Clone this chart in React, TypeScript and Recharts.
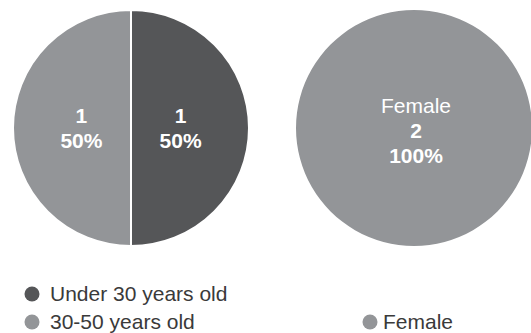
import React from "react";
import { PieChart, Pie, Cell, Legend } from "recharts";

// age breakdown (left pie)
const ageGroups = ["Under 30 years old", "30-50 years old"];
const ageCounts = [1, 1];
const ageColors = ["#555658", "#939598"];

// gender breakdown (right pie)
const genders = ["Female"];
const genderCounts = [2];
const genderColors = ["#939598"];

const ageData = ageGroups.map((name, i) => ({ name, value: ageCounts[i] }));
const genderData = genders.map((name, i) => ({ name, value: genderCounts[i] }));

const FONT = "'Liberation Sans', Arial, Helvetica, sans-serif";
const RAD = Math.PI / 180;

const pctText = (p: number) => `${Math.round(p * 100)}%`;

// count + percent, bold, inside each slice
const AgeLabel = (props: any) => {
  const { cx, cy, midAngle, outerRadius, value, percent } = props;
  const r = outerRadius * 0.42;
  const x = cx + r * Math.cos(-midAngle * RAD);
  const y = cy + r * Math.sin(-midAngle * RAD);
  return (
    <text x={x} y={y} fill="#fff" textAnchor="middle" fontFamily={FONT} fontSize={21} fontWeight="bold">
      <tspan x={x} dy={-5}>{value}</tspan>
      <tspan x={x} dy={25}>{pctText(percent)}</tspan>
    </text>
  );
};

// name, count and percent centred on the single full slice
const GenderLabel = (props: any) => {
  const { cx, cy, name, value, percent } = props;
  return (
    <text x={cx} y={cy} fill="#fff" textAnchor="middle" fontFamily={FONT} fontSize={21}>
      <tspan x={cx + 2} dy={-15}>{name}</tspan>
      <tspan x={cx + 2} dy={25} fontWeight="bold">{value}</tspan>
      <tspan x={cx + 2} dy={25} fontWeight="bold">{pctText(percent)}</tspan>
    </text>
  );
};

const Dot = ({ color }: { color: string }) => (
  <svg width={16} height={16} style={{ marginRight: 4, flexShrink: 0 }}>
    <circle cx={8} cy={8} r={7.5} fill={color} />
  </svg>
);

const LegendRows = () => (
  <div style={{ position: "relative", width: 531, height: 60, fontFamily: FONT, fontSize: 21, color: "#3a3a3a" }}>
    {ageGroups.map((g, i) => (
      <div key={g} style={{ position: "absolute", left: 24, top: i * 28, display: "flex", alignItems: "center", height: 24 }}>
        <Dot color={ageColors[i]} />
        <span style={{ marginLeft: 6 }}>{g}</span>
      </div>
    ))}
    {genders.map((g, i) => (
      <div key={g} style={{ position: "absolute", left: 362, top: 28 + i * 28, display: "flex", alignItems: "center", height: 24 }}>
        <Dot color={genderColors[i]} />
        <span style={{ marginLeft: 1 }}>{g}</span>
      </div>
    ))}
  </div>
);

export default function App() {
  return (
    <div style={{ position: "absolute", left: 0, top: 0, width: 531, height: 333, background: "#fff" }}>
      <PieChart width={531} height={333} margin={{ top: 0, right: 0, bottom: 0, left: 0 }}>
        <Pie
          data={ageData}
          dataKey="value"
          nameKey="name"
          cx={131}
          cy={128}
          outerRadius={118}
          startAngle={90}
          endAngle={-270}
          stroke="#fff"
          strokeWidth={2}
          label={AgeLabel}
          labelLine={false}
          isAnimationActive={false}
        >
          {ageData.map((d, i) => (
            <Cell key={d.name} fill={ageColors[i]} />
          ))}
        </Pie>
        <Pie
          data={genderData}
          dataKey="value"
          nameKey="name"
          cx={414}
          cy={128}
          outerRadius={118}
          startAngle={90}
          endAngle={-270}
          stroke="none"
          label={GenderLabel}
          labelLine={false}
          isAnimationActive={false}
        >
          {genderData.map((d, i) => (
            <Cell key={d.name} fill={genderColors[i]} />
          ))}
        </Pie>
        <Legend
          verticalAlign="bottom"
          content={() => <LegendRows />}
          wrapperStyle={{ left: 0, top: 282, width: 531, height: 60 }}
        />
      </PieChart>
    </div>
  );
}
